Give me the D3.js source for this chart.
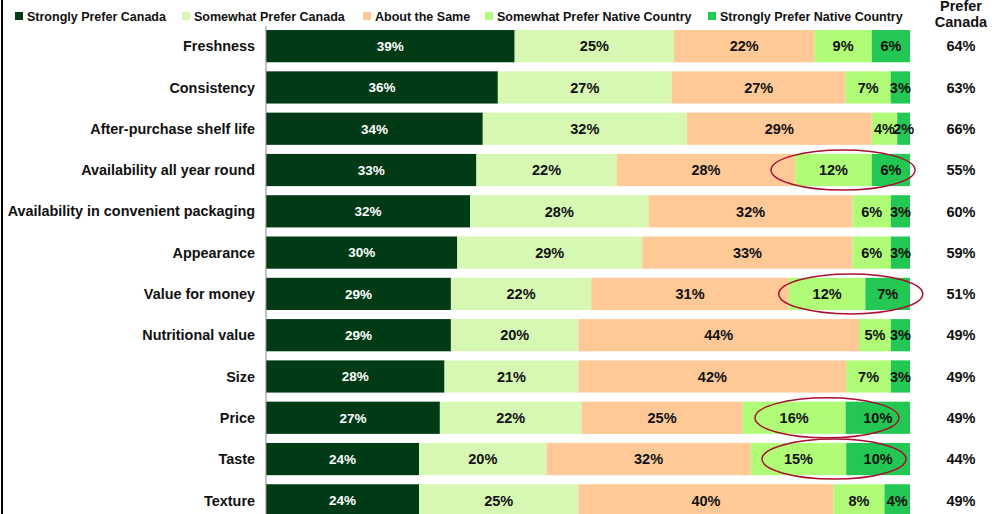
<!DOCTYPE html>
<html>
<head>
<meta charset="utf-8">
<script src="https://cdn.jsdelivr.net/npm/d3@7"></script>
<style>
  body { margin: 0; background: #fff; }
  svg { display: block; font-family: "Liberation Sans", Arial, sans-serif; }
</style>
</head>
<body>
<div id="chart"></div>
<script>
// categories, top to bottom
let attributes = ["Freshness", "Consistency", "After-purchase shelf life", "Availability all year round",
  "Availability in convenient packaging", "Appearance", "Value for money", "Nutritional value",
  "Size", "Price", "Taste", "Texture"];

let seriesNames = ["Strongly Prefer Canada", "Somewhat Prefer Canada", "About the Same",
  "Somewhat Prefer Native Country", "Strongly Prefer Native Country"];

// series values (%), one array per series
let stronglyCanada  = [39, 36, 34, 33, 32, 30, 29, 29, 28, 27, 24, 24];
let somewhatCanada  = [25, 27, 32, 22, 28, 29, 22, 20, 21, 22, 20, 25];
let aboutSame       = [22, 27, 29, 28, 32, 33, 31, 44, 42, 25, 32, 40];
let somewhatNative  = [9, 7, 4, 12, 6, 6, 12, 5, 7, 16, 15, 8];
let stronglyNative  = [6, 3, 2, 6, 3, 3, 7, 3, 3, 10, 10, 4];

let preferCanada = [64, 63, 66, 55, 60, 59, 51, 49, 49, 49, 44, 49];

// rows highlighted with an ellipse, and centre of the ellipse as share of the bar
let highlightRows = ["Availability all year round", "Value for money", "Price", "Taste"];
let highlightCentre = [0.896, 0.908, 0.871, 0.882];

let colors = ["#003b16", "#d7f8b2", "#fec997", "#b0fc77", "#23c753"];
let labelColors = ["#ffffff", "#111", "#111", "#111", "#111"];

let width = 992, height = 514;
let margin = {left: 266, right: 82};

let rows = attributes.map(function(a, i) {
  return {
    name: a,
    s0: stronglyCanada[i], s1: somewhatCanada[i], s2: aboutSame[i],
    s3: somewhatNative[i], s4: stronglyNative[i]
  };
});
let keys = ["s0", "s1", "s2", "s3", "s4"];

let stack = d3.stack().keys(keys).offset(d3.stackOffsetExpand);
let layers = stack(rows);

let xScale = d3.scaleLinear().domain([0, 1]).range([margin.left, width - margin.right]);
let yScale = d3.scaleBand().domain(attributes).range([25.5, 521]).paddingInner(0.22).paddingOuter(0.11);

let svg = d3.select("#chart").append("svg")
  .attr("width", width)
  .attr("height", height);

// left border
svg.append("line")
  .attr("x1", 2).attr("x2", 2).attr("y1", 0).attr("y2", height)
  .attr("stroke", "#000").attr("stroke-width", 2);

// legend
let legendX = [15, 182, 363, 485, 708];
let legend = svg.append("g").attr("class", "legend");
seriesNames.forEach(function(name, i) {
  legend.append("rect")
    .attr("x", legendX[i]).attr("y", 12)
    .attr("width", 8).attr("height", 8)
    .attr("fill", colors[i]);
  legend.append("text")
    .attr("x", legendX[i] + 12).attr("y", 20.5)
    .attr("font-size", "12.5px").attr("font-weight", "bold")
    .attr("fill", "#111")
    .text(name);
});

// bars
let groups = svg.selectAll(".layer")
  .data(layers)
  .enter().append("g")
  .attr("class", "layer")
  .attr("fill", function(d, i) { return colors[i]; });

groups.selectAll("rect")
  .data(function(d) { return d; })
  .enter().append("rect")
  .attr("x", function(d) { return xScale(d[0]); })
  .attr("y", function(d) { return yScale(d.data.name); })
  .attr("width", function(d) { return xScale(d[1]) - xScale(d[0]); })
  .attr("height", yScale.bandwidth());

// segment labels
layers.forEach(function(layer, li) {
  svg.append("g").selectAll("text")
    .data(layer)
    .enter().append("text")
    .attr("x", function(d) { return (xScale(d[0]) + xScale(d[1])) / 2; })
    .attr("y", function(d) { return yScale(d.data.name) + yScale.bandwidth() / 2; })
    .attr("dy", "0.36em")
    .attr("text-anchor", "middle")
    .attr("font-size", li == 0 ? "13.5px" : "14.5px").attr("font-weight", "bold")
    .attr("fill", labelColors[li])
    .text(function(d) { return d.data[layer.key] + "%"; });
});

// axis line
svg.append("line")
  .attr("x1", xScale(0)).attr("x2", xScale(0))
  .attr("y1", 26).attr("y2", height)
  .attr("stroke", "#888").attr("stroke-width", 1);

// category labels
svg.append("g").selectAll("text")
  .data(attributes)
  .enter().append("text")
  .attr("x", 255)
  .attr("y", function(d) { return yScale(d) + yScale.bandwidth() / 2; })
  .attr("dy", "0.36em")
  .attr("text-anchor", "end")
  .attr("font-size", "14.4px").attr("font-weight", "bold")
  .attr("fill", "#111")
  .text(function(d) { return d; });

// Prefer Canada column
let colX = 961;
svg.append("text").attr("x", colX).attr("y", 11).attr("text-anchor", "middle")
  .attr("font-size", "14.5px").attr("font-weight", "bold").attr("fill", "#111").text("Prefer");
svg.append("text").attr("x", colX).attr("y", 27).attr("text-anchor", "middle")
  .attr("font-size", "14.5px").attr("font-weight", "bold").attr("fill", "#111").text("Canada");

svg.append("g").selectAll("text")
  .data(preferCanada)
  .enter().append("text")
  .attr("x", colX)
  .attr("y", function(d, i) { return yScale(attributes[i]) + yScale.bandwidth() / 2; })
  .attr("dy", "0.36em")
  .attr("text-anchor", "middle")
  .attr("font-size", "14.5px").attr("font-weight", "bold")
  .attr("fill", "#111")
  .text(function(d) { return d + "%"; });

// ellipses
svg.append("g").selectAll("ellipse")
  .data(highlightRows)
  .enter().append("ellipse")
  .attr("cx", function(d, i) { return xScale(highlightCentre[i]); })
  .attr("cy", function(d) { return yScale(d) + yScale.bandwidth() / 2; })
  .attr("rx", 72)
  .attr("ry", 20)
  .attr("fill", "none")
  .attr("stroke", "#a8102f")
  .attr("stroke-width", 1.5);
</script>
</body>
</html>
